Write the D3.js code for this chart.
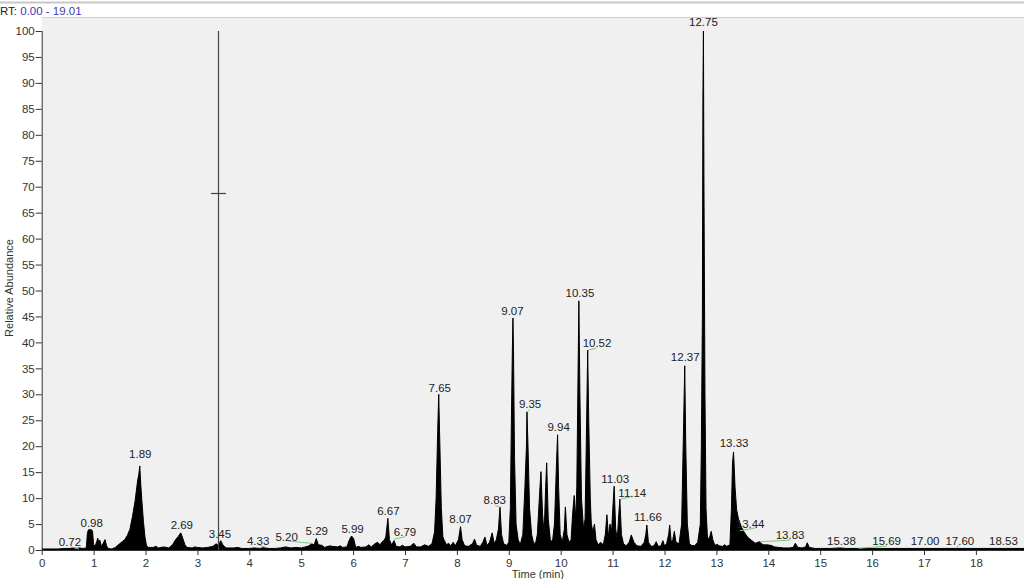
<!DOCTYPE html>
<html><head><meta charset="utf-8">
<script src="https://cdn.jsdelivr.net/npm/d3@7/dist/d3.min.js"></script>
<style>
html,body{margin:0;padding:0;background:#fff;overflow:hidden}
svg{display:block;font-family:"Liberation Sans",Arial,sans-serif}
</style></head><body>
<svg id="c" width="1024" height="579"></svg>
<script>
// ---------- data ----------
const rangeText = "0.00 - 19.01";
const xDomain = [0, 19.01];
const yDomain = [0, 100];
const xTicks = [0,1,2,3,4,5,6,7,8,9,10,11,12,13,14,15,16,17,18];
const yTicks = [0,5,10,15,20,25,30,35,40,45,50,55,60,65,70,75,80,85,90,95,100];
const xTitle = "Time (min)";
const yTitle = "Relative Abundance";

// chromatogram trace: [time (min), relative abundance]
const tracePoints = [
 [0.00,0.2],[0.30,0.2],[0.45,0.3],[0.55,0.3],[0.60,0.5],[0.66,0.3],[0.72,0.4],[0.80,0.3],[0.86,0.4],
 [0.88,3.2],[0.90,3.9],[0.96,3.9],[0.98,3.6],[1.00,1.0],[1.03,0.8],[1.06,1.6],[1.08,2.3],[1.10,1.5],
 [1.12,1.9],[1.15,0.7],[1.18,1.2],[1.22,2.0],[1.25,0.8],[1.28,0.3],[1.35,0.2],[1.42,0.5],[1.50,1.2],
 [1.55,1.6],[1.60,2.0],[1.65,2.8],[1.70,4.0],[1.75,6.5],[1.80,9.5],[1.85,13.5],[1.87,14.5],[1.89,16.2],
 [1.91,12.5],[1.93,9.5],[1.96,5.5],[1.99,2.5],[2.02,0.8],[2.06,0.5],[2.15,0.5],[2.20,0.7],[2.25,0.4],
 [2.35,0.6],[2.45,0.4],[2.52,1.0],[2.58,2.0],[2.63,2.6],[2.68,3.3],[2.72,2.2],[2.76,1.0],[2.80,0.5],
 [2.90,0.4],[2.95,0.6],[3.00,0.5],[3.10,0.4],[3.20,0.5],[3.30,0.7],[3.36,1.2],[3.40,0.9],[3.45,1.8],
 [3.49,1.0],[3.55,0.4],[3.70,0.4],[3.78,0.5],[3.85,0.3],[4.00,0.3],[4.10,0.4],[4.20,0.3],[4.30,0.5],
 [4.36,0.3],[4.50,0.3],[4.60,0.4],[4.70,0.6],[4.80,0.4],[4.90,0.5],[5.00,0.4],[5.08,0.6],[5.15,0.8],
 [5.20,1.2],[5.25,1.0],[5.29,2.2],[5.33,1.0],[5.40,0.9],[5.45,0.5],[5.55,0.8],[5.60,0.7],[5.70,0.6],
 [5.75,0.8],[5.80,0.5],[5.88,0.6],[5.93,2.0],[5.97,2.7],[6.01,2.2],[6.05,0.5],[6.10,0.7],[6.15,0.5],
 [6.25,0.6],[6.30,1.0],[6.35,0.6],[6.42,1.2],[6.47,1.5],[6.52,1.0],[6.56,1.6],[6.60,1.9],[6.63,2.5],
 [6.67,6.1],[6.70,2.0],[6.74,1.0],[6.79,1.8],[6.83,0.7],[6.90,0.6],[6.95,0.9],[7.00,0.6],[7.10,0.7],
 [7.17,1.3],[7.22,0.6],[7.30,0.6],[7.38,1.0],[7.45,0.7],[7.52,1.2],[7.57,3.5],[7.60,10],[7.63,23],
 [7.65,30],[7.67,21],[7.70,8],[7.73,2.5],[7.76,1.8],[7.80,1.0],[7.84,1.3],[7.88,0.8],[7.93,1.5],
 [7.97,0.8],[8.03,2.0],[8.07,4.5],[8.10,2.0],[8.15,0.8],[8.22,0.7],[8.30,1.2],[8.34,2.1],[8.38,0.9],
 [8.45,0.7],[8.50,1.5],[8.54,2.5],[8.58,0.9],[8.63,1.5],[8.68,3.3],[8.72,1.2],[8.76,2.0],[8.80,4.0],
 [8.83,8.3],[8.86,3.0],[8.90,1.2],[8.96,0.9],[9.00,1.5],[9.03,8],[9.05,25],[9.07,39.5],[9.08,44.7],
 [9.09,39],[9.11,18],[9.14,5],[9.18,2],[9.22,1.0],[9.27,3],[9.31,12],[9.34,20],[9.35,26.6],[9.37,20],
 [9.40,8],[9.44,3],[9.48,1.2],[9.52,1.5],[9.55,3],[9.60,12],[9.62,15.1],[9.65,7],[9.68,3],[9.71,12],
 [9.73,16.8],[9.76,6],[9.80,2],[9.84,1.5],[9.88,5],[9.92,17],[9.94,22.2],[9.96,12],[9.99,3],
 [10.03,1.5],[10.07,4],[10.09,8.3],[10.12,3],[10.16,1.5],[10.20,2],[10.23,7],[10.26,10.5],[10.29,6],
 [10.31,12],[10.33,30],[10.35,48],[10.37,30],[10.40,10],[10.44,4],[10.47,6],[10.50,25],[10.52,38.5],
 [10.54,25],[10.57,10],[10.59,5],[10.62,3.5],[10.65,5],[10.68,2],[10.72,1.0],[10.77,1.5],[10.82,1.0],
 [10.86,3],[10.89,6.8],[10.92,2.5],[10.95,5],[10.98,3.5],[11.01,9],[11.03,12.3],[11.06,4],[11.09,2],
 [11.12,7],[11.14,9.8],[11.17,3],[11.21,1.2],[11.26,0.8],[11.32,1.5],[11.36,2.9],[11.41,1.5],
 [11.47,0.8],[11.55,0.7],[11.61,1.5],[11.64,3],[11.66,4.8],[11.69,1.5],[11.74,0.7],[11.80,0.8],
 [11.84,1.6],[11.88,0.7],[11.93,0.8],[11.97,1.8],[12.00,0.8],[12.04,1.2],[12.08,3],[12.10,4.8],
 [12.13,1.5],[12.16,2],[12.19,3.6],[12.22,1.5],[12.28,1.2],[12.33,5],[12.36,20],[12.39,35.5],
 [12.41,20],[12.44,5],[12.48,1.2],[12.52,0.9],[12.58,0.8],[12.64,1.5],[12.69,5],[12.71,20],[12.73,45],
 [12.74,87],[12.75,100],[12.76,71],[12.78,30],[12.80,8],[12.83,2],[12.87,2.5],[12.90,3.6],[12.93,2],
 [12.97,0.9],[13.02,1.1],[13.05,0.8],[13.12,0.7],[13.16,1.0],[13.20,0.7],[13.26,1.0],[13.29,8],
 [13.31,16.7],[13.33,18.9],[13.36,12],[13.39,7.7],[13.43,5.8],[13.48,4.5],[13.53,3.5],[13.60,2.5],
 [13.67,1.9],[13.75,1.3],[13.83,1.6],[13.90,1.0],[13.97,1.0],[14.05,0.9],[14.12,0.6],[14.20,0.5],
 [14.30,0.4],[14.40,0.4],[14.48,0.5],[14.52,1.3],[14.57,0.5],[14.65,0.4],[14.72,0.6],[14.75,1.4],
 [14.79,0.5],[14.90,0.3],[15.00,0.3],[15.20,0.3],[15.38,0.4],[15.50,0.3],[15.69,0.3],[16.00,0.3],
 [16.50,0.3],[17.00,0.3],[17.60,0.3],[18.00,0.3],[18.53,0.3],[19.01,0.3]
];

// peak labels: text, label centre time, label baseline abundance
const labelText = ["0.72","0.98","1.89","2.69","3.45","4.33","5.20","5.29","5.99","6.67","6.79","7.65",
  "8.07","8.83","9.07","9.35","9.94","10.35","10.52","11.03","11.14","11.66","12.37","12.75","13.33",
  "13.44","13.83","15.38","15.69","17.00","17.60","18.53"];
const labelTime = [0.545,0.963,1.90,2.70,3.435,4.17,4.72,5.30,5.99,6.68,7.00,7.67,
  8.07,8.73,9.07,9.41,9.96,10.37,10.70,11.05,11.38,11.68,12.40,12.75,13.34,
  13.65,14.42,15.41,16.28,17.02,17.69,18.53];
const labelAbund = [0.8,4.5,17.7,4.0,2.3,1.0,1.8,2.8,3.3,6.8,2.7,30.4,
  5.2,8.9,45.3,27.4,23.0,48.7,39.1,12.9,10.3,5.6,36.4,101.0,19.8,
  4.2,2.1,1.0,0.9,0.95,0.95,0.95];
// leader lines from peak to shifted label: [t1, y1, t2, y2]
const leaders = [
  [0.565,0.58,0.718,0.19],[4.19,0.96,4.33,0.44],[4.75,1.73,5.20,1.29],[6.79,2.06,7.00,2.56],
  [8.73,8.67,8.83,8.2],[9.35,26.6,9.40,27.0],[10.53,38.5,10.69,38.9],[11.16,9.8,11.38,10.3],
  [13.45,3.7,13.77,4.3],[13.85,1.6,14.42,1.9],[15.74,0.33,16.28,0.77],[17.62,0.33,17.67,0.96]
];
// vertical marker
const markerTime = 3.40, markerTop = 100, markerMid = 68.8;

// ---------- drawing ----------
const W = 1024, H = 579;
const svg = d3.select("#c");
const x = d3.scaleLinear().domain(xDomain).range([41.7, 41.7 + 51.9 * 19.01]);
const y = d3.scaleLinear().domain(yDomain).range([550, 31]);
const x0 = x(0), yb = y(0);
const FONT = "Liberation Sans, Arial, sans-serif";

svg.append("rect").attr("x",0).attr("y",0).attr("width",W).attr("height",H).attr("fill","#fff");
svg.append("line").attr("x1",0).attr("x2",W).attr("y1",2.5).attr("y2",2.5).attr("stroke","#c8c8c8").attr("stroke-width",2);

// plot background
svg.append("rect").attr("x",x0).attr("y",17).attr("width",W-x0).attr("height",yb-17)
  .attr("fill","#f0f0f0");
svg.append("line").attr("x1",x0).attr("x2",W).attr("y1",17.5).attr("y2",17.5).attr("stroke","#cfcfcf");

// RT header
const hdr = svg.append("text").attr("x",0).attr("y",15).attr("font-size",11.5);
hdr.append("tspan").attr("fill","#222").text("RT: ");
hdr.append("tspan").attr("fill","#3a3ab8").text(rangeText);

// clip
svg.append("clipPath").attr("id","pc").append("rect").attr("x",x0).attr("y",0).attr("width",W-x0).attr("height",yb+0.5);
const g = svg.append("g").attr("clip-path","url(#pc)");

// trace
const area = d3.area().x(d=>x(d[0])).y0(yb).y1(d=>y(d[1]));
const line = d3.line().x(d=>x(d[0])).y(d=>y(d[1]));
g.append("path").datum(tracePoints).attr("d",area).attr("fill","#000");
g.append("path").datum(tracePoints).attr("d",line).attr("fill","none").attr("stroke","#000").attr("stroke-width",1);

// marker
const mx = Math.round(x(markerTime)) + 0.5;
svg.append("line").attr("x1",mx).attr("x2",mx).attr("y1",y(markerTop)).attr("y2",yb).attr("stroke","#444").attr("stroke-width",1.2);
svg.append("line").attr("x1",mx-7.5).attr("x2",mx+7.5).attr("y1",Math.round(y(markerMid))+0.5).attr("y2",Math.round(y(markerMid))+0.5).attr("stroke","#444").attr("stroke-width",1.2);

// leaders
svg.selectAll("line.leader").data(leaders).join("line").attr("class","leader")
  .attr("x1",d=>x(d[0])).attr("y1",d=>y(d[1])).attr("x2",d=>x(d[2])).attr("y2",d=>y(d[3]))
  .attr("stroke","#7cc87c").attr("stroke-width",1);

// labels
svg.selectAll("text.pk").data(labelText).join("text").attr("class","pk")
  .attr("x",(d,i)=>x(labelTime[i])).attr("y",(d,i)=>y(labelAbund[i]))
  .attr("text-anchor","middle").attr("font-size",11.5).attr("fill","#222").text(d=>d);

// axes
const xAxis = svg.append("g").attr("transform",`translate(0,${yb})`);
xAxis.call(d3.axisBottom(x).tickValues(d3.range(0,190).map(v=>v/10).filter(v=>v<=xDomain[1])).tickSize(2.5).tickFormat(""))
  .call(s=>s.select(".domain").remove());
xAxis.call(d3.axisBottom(x).tickValues(xTicks).tickSize(5).tickPadding(4).tickFormat(d3.format("d")))
  .call(s=>s.select(".domain").attr("d",`M${x0},0.5H${W}`));
xAxis.selectAll("line").attr("stroke","#333");
xAxis.selectAll(".domain").attr("stroke","#333");
xAxis.selectAll("text").attr("font-size",11.5).attr("fill","#333").attr("font-family",FONT);

const yAxis = svg.append("g").attr("transform",`translate(${x0},0)`);
yAxis.call(d3.axisLeft(y).tickValues(d3.range(0,101)).tickSize(3).tickFormat(""))
  .call(s=>s.select(".domain").remove());
yAxis.call(d3.axisLeft(y).tickValues(yTicks).tickSize(6).tickPadding(1).tickFormat(d3.format("d")))
  .call(s=>s.select(".domain").attr("d",`M0.5,${y(100)}V${yb}`));
yAxis.selectAll("line").attr("stroke","#333");
yAxis.selectAll(".domain").attr("stroke","#333");
yAxis.selectAll("text").attr("font-size",11.5).attr("fill","#333").attr("font-family",FONT);

svg.append("text").attr("x",(x0+W)/2+5).attr("y",578).attr("text-anchor","middle")
  .attr("font-size",11).attr("fill","#333").text(xTitle);
svg.append("text").attr("transform",`translate(13,${288}) rotate(-90)`).attr("text-anchor","middle")
  .attr("font-size",11).attr("fill","#333").text(yTitle);
</script>
</body></html>
